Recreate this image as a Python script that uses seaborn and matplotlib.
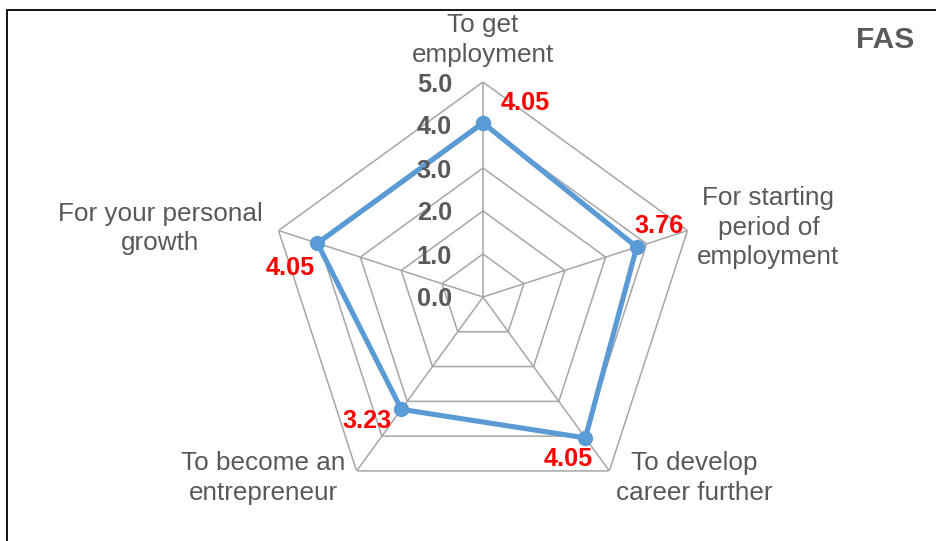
import numpy as np
import pandas as pd
import matplotlib
matplotlib.use("Agg")
import matplotlib.pyplot as plt
import seaborn as sns
from matplotlib.patches import Rectangle

categories = ["To get\nemployment",
              "For starting\nperiod of\nemployment",
              "To develop\ncareer further",
              "To become an\nentrepreneur",
              "For your personal\ngrowth"]
values = [4.05, 3.76, 4.05, 3.23, 4.05]
value_labels = ["4.05", "3.76", "4.05", "3.23", "4.05"]
r_ticks = [0, 1, 2, 3, 4, 5]
r_tick_labels = ["0.0", "1.0", "2.0", "3.0", "4.0", "5.0"]
title = "FAS"

sns.set_theme(style="white")
plt.rcParams['font.family'] = ['Liberation Sans', 'DejaVu Sans']

GRAY = "#595959"
GRID = "#A6A6A6"
BLUE = "#5B9BD5"

W, H = 936, 541
fig = plt.figure(figsize=(W / 100, H / 100), dpi=100)
cx, cy, R = 483, 297, 215
ax = fig.add_axes([(cx - R) / W, (H - cy - R) / H, 2 * R / W, 2 * R / H], projection="polar")
ax.set_theta_offset(np.pi / 2)
ax.set_theta_direction(-1)
ax.set_ylim(0, 5)
ax.grid(False)
ax.spines['polar'].set_visible(False)
ax.set_xticks([])
ax.set_yticks([])
ax.patch.set_alpha(0)

n = len(categories)
angles = [2 * np.pi * i / n for i in range(n)]

# pentagon grid
for lvl in r_ticks[1:]:
    ax.plot(angles + [angles[0]], [lvl] * (n + 1), color=GRID, lw=1.1, zorder=1)
for a in angles:
    ax.plot([a, a], [0, r_ticks[-1]], color=GRID, lw=1.1, zorder=1)

df = pd.DataFrame({"theta": angles + [2 * np.pi], "value": values + [values[0]]})
sns.lineplot(data=df, x="theta", y="value", sort=False, estimator=None, ax=ax,
             color=BLUE, linewidth=3.7, marker="o", markersize=11,
             markeredgewidth=0, zorder=3)
ax.set_xlabel("")
ax.set_ylabel("")
ax.set_xticks([])
ax.set_yticks([])
ax.set_ylim(0, 5)

# category labels (pixel offsets from the outer vertex)
cat_offsets = [(0, 42), (81, 3), (85, -7), (-93, -7), (-118, 2)]
for a, lab, off in zip(angles, categories, cat_offsets):
    ax.annotate(lab, xy=(a, r_ticks[-1]), xytext=off, textcoords="offset pixels",
                ha="center", va="center", fontsize=18.8, color=GRAY,
                linespacing=1.27, annotation_clip=False)

# value labels
val_offsets = [(42, 20), (22, 21), (-17, -21), (-34, -12), (-27, -25)]
for a, v, lab, off in zip(angles, values, value_labels, val_offsets):
    ax.annotate(lab, xy=(a, v), xytext=off, textcoords="offset pixels",
                ha="center", va="center", fontsize=18.2, fontweight="bold",
                color="#FF0000", annotation_clip=False, zorder=4)

# radial tick labels
for r, lab in zip(r_ticks, r_tick_labels):
    ax.annotate(lab, xy=(0, r), xytext=(-31, 0), textcoords="offset pixels",
                ha="right", va="center_baseline", fontsize=18.2, fontweight="bold",
                color=GRAY, annotation_clip=False, zorder=4)

fig.text(885 / W, 1 - 40 / H, title, ha="center", va="center", fontsize=21.5,
         fontweight="bold", color=GRAY)

fig.add_artist(Rectangle((7 / W, -0.2), 1.3, (H - 10) / H + 0.2,
                         transform=fig.transFigure, fill=False,
                         edgecolor="black", lw=1.3, clip_on=False))

fig.savefig("out.png", dpi=100)
